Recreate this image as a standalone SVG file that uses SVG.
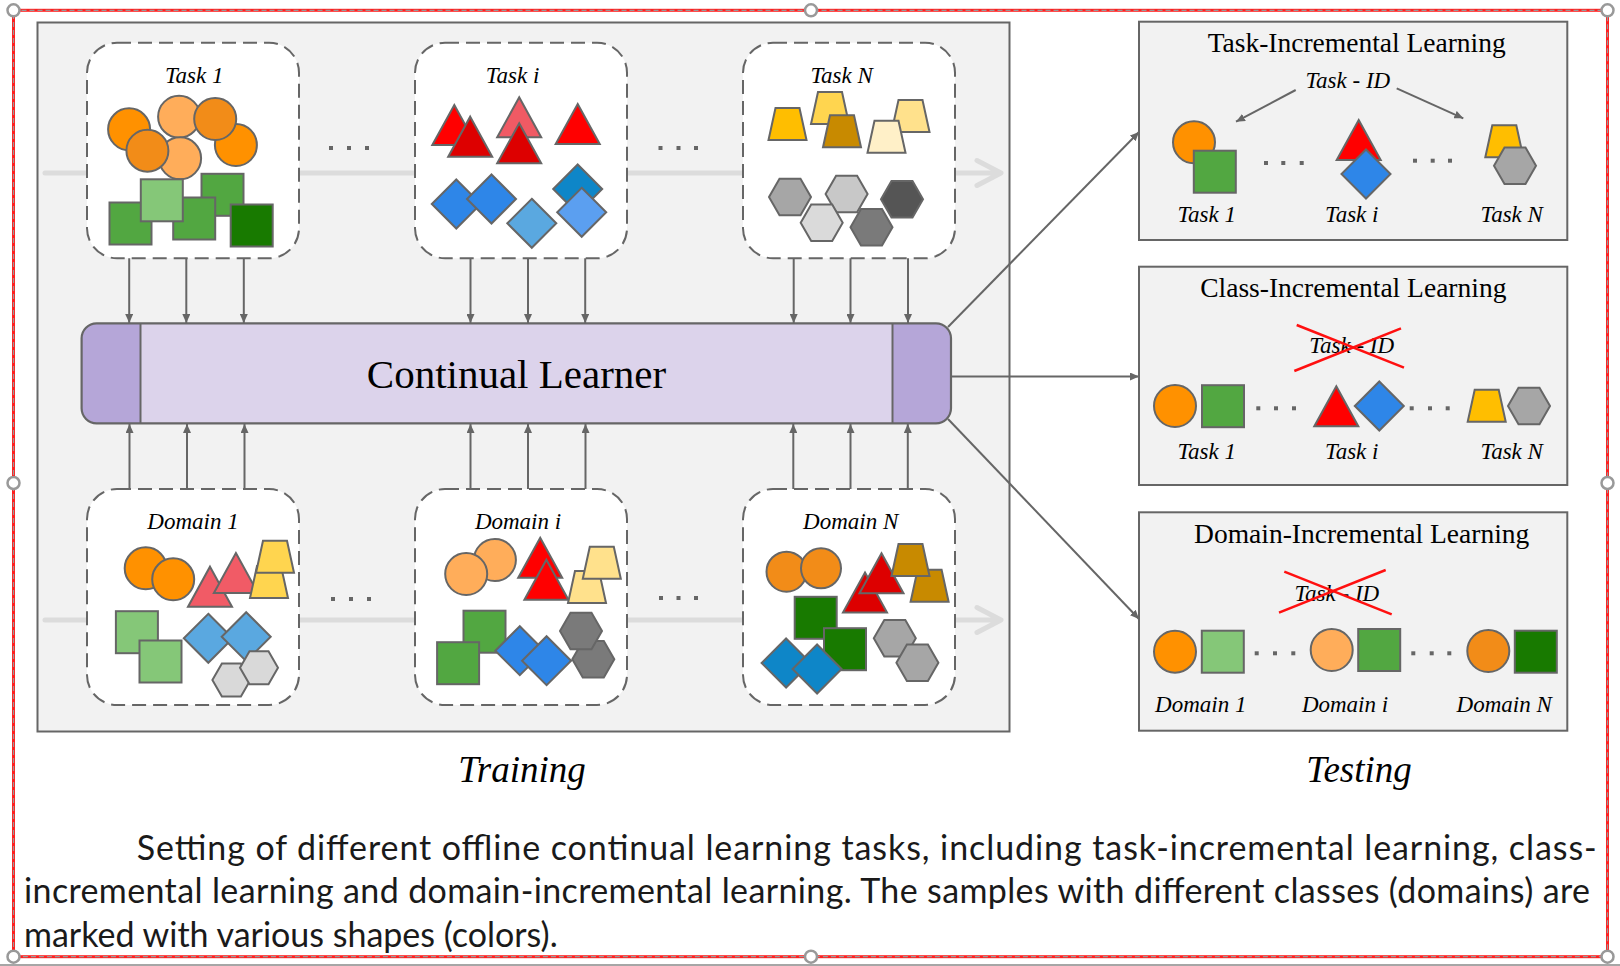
<svg xmlns="http://www.w3.org/2000/svg" xmlns:xlink="http://www.w3.org/1999/xlink" width="1620" height="966" viewBox="0 0 1620 966">
<style>
.sh{stroke:#666;stroke-width:2;stroke-linejoin:miter}
.box{fill:#fff;stroke:#666;stroke-width:2;stroke-dasharray:14 7}
.panel{fill:#f2f2f2;stroke:#666;stroke-width:2}
.lbl{font-family:"Liberation Serif",serif;font-style:italic;font-size:23px;text-anchor:middle;fill:#000}
.ttl{font-family:"Liberation Serif",serif;font-size:27.5px;text-anchor:middle;fill:#000}
.dot{fill:#666}
.flow{fill:none;stroke:#dcdcdc;stroke-width:5;stroke-linecap:round;stroke-linejoin:round}
.arr{fill:none;stroke:#666;stroke-width:2;marker-end:url(#ah)}
.cross{stroke:#ff1010;stroke-width:2.5}
.cap{font-family:Lato,"Noto Sans",sans-serif;font-size:34px;fill:#1a1a1a}
.big{font-family:"Liberation Serif",serif;font-style:italic;font-size:37px;text-anchor:middle;fill:#000}
.hdl{fill:#fff;stroke:#999;stroke-width:2.5}
</style>
<defs>
<marker id="ah" markerUnits="userSpaceOnUse" markerWidth="9" markerHeight="8" refX="9" refY="4" orient="auto"><path d="M0,0 L9,4 L0,8 z" fill="#666"/></marker>
<circle id="circ" r="21" class="sh"/>
<circle id="circ20" r="20" class="sh"/>
<rect id="sq" x="-21" y="-21" width="42" height="42" class="sh"/>
<polygon id="tri" points="0,-20 22,20 -22,20" class="sh"/>
<polygon id="dia" points="0,-24.5 24.5,0 0,24.5 -24.5,0" class="sh"/>
<polygon id="trap" points="-12,-16 12,-16 19,16 -19,16" class="sh"/>
<polygon id="hex" points="-21,0 -10.5,-18.2 10.5,-18.2 21,0 10.5,18.2 -10.5,18.2" class="sh"/>
<polygon id="hex19" points="-19,0 -9.5,-16.5 9.5,-16.5 19,0 9.5,16.5 -9.5,16.5" class="sh"/>
</defs>

<rect width="1620" height="966" fill="#fff"/>

<g id="training-panel">
<rect x="37.5" y="22.5" width="972" height="709" class="panel"/>
</g>

<g id="connectors">
<path class="flow" d="M45,173 H1000 M977,160.5 L1001,173 L977,185.5"/>
<path class="flow" d="M45,620 H1000 M977,607.5 L1001,620 L977,632.5"/>
<line class="arr" x1="129.2" y1="258" x2="129.2" y2="323"/>
<line class="arr" x1="186.3" y1="258" x2="186.3" y2="323"/>
<line class="arr" x1="243.8" y1="258" x2="243.8" y2="323"/>
<line class="arr" x1="470.5" y1="258" x2="470.5" y2="323"/>
<line class="arr" x1="528" y1="258" x2="528" y2="323"/>
<line class="arr" x1="585.2" y1="258" x2="585.2" y2="323"/>
<line class="arr" x1="793.7" y1="258" x2="793.7" y2="323"/>
<line class="arr" x1="850.5" y1="258" x2="850.5" y2="323"/>
<line class="arr" x1="908" y1="258" x2="908" y2="323"/>
<line class="arr" x1="129.5" y1="489" x2="129.5" y2="424"/>
<line class="arr" x1="187" y1="489" x2="187" y2="424"/>
<line class="arr" x1="244.5" y1="489" x2="244.5" y2="424"/>
<line class="arr" x1="470.5" y1="489" x2="470.5" y2="424"/>
<line class="arr" x1="528" y1="489" x2="528" y2="424"/>
<line class="arr" x1="585.5" y1="489" x2="585.5" y2="424"/>
<line class="arr" x1="793.3" y1="489" x2="793.3" y2="424"/>
<line class="arr" x1="850.5" y1="489" x2="850.5" y2="424"/>
<line class="arr" x1="907.8" y1="489" x2="907.8" y2="424"/>
<line class="arr" x1="948" y1="327" x2="1139" y2="132"/>
<line class="arr" x1="951" y1="376.5" x2="1139" y2="376.5"/>
<line class="arr" x1="948" y1="419" x2="1139" y2="619"/>
</g>

<g id="dots-training">
<rect class="dot" x="329" y="146" width="4" height="4"/><rect class="dot" x="347" y="146" width="4" height="4"/><rect class="dot" x="365" y="146" width="4" height="4"/>
<rect class="dot" x="658.5" y="146" width="4" height="4"/><rect class="dot" x="676.5" y="146" width="4" height="4"/><rect class="dot" x="694" y="146" width="4" height="4"/>
<rect class="dot" x="331" y="597" width="4" height="4"/><rect class="dot" x="349" y="597" width="4" height="4"/><rect class="dot" x="367" y="597" width="4" height="4"/>
<rect class="dot" x="659" y="596" width="4" height="4"/><rect class="dot" x="676.5" y="596" width="4" height="4"/><rect class="dot" x="694" y="596" width="4" height="4"/>
</g>

<g id="task-1">
<rect x="87" y="42.7" width="212" height="215.6" rx="30" class="box"/>
<text class="lbl" x="194.2" y="83.3">Task 1</text>
<use xlink:href="#circ" x="129.1" y="129.3" fill="#ff9100"/>
<use xlink:href="#circ" x="235.9" y="145" fill="#ff9100"/>
<use xlink:href="#circ" x="179.1" y="116.7" fill="#ffad5a"/>
<use xlink:href="#circ" x="215.2" y="119" fill="#f28c18"/>
<use xlink:href="#circ" x="180.1" y="158.3" fill="#ffad5a"/>
<use xlink:href="#circ" x="147.4" y="150.7" fill="#f28c18"/>
<use xlink:href="#sq" x="130.5" y="223.5" fill="#52a741"/>
<use xlink:href="#sq" x="222.5" y="194.8" fill="#52a741"/>
<use xlink:href="#sq" x="194.2" y="218.5" fill="#52a741"/>
<use xlink:href="#sq" x="161.8" y="200.3" fill="#85c778"/>
<use xlink:href="#sq" x="251.7" y="225.5" fill="#187a00"/>
</g>

<g id="task-i">
<rect x="415" y="42.7" width="212" height="215.6" rx="30" class="box"/>
<text class="lbl" x="512.6" y="83.3">Task i</text>
<use xlink:href="#tri" x="454.3" y="125" fill="#ff0000"/>
<use xlink:href="#tri" x="470.2" y="136.7" fill="#dd0000"/>
<use xlink:href="#tri" x="519.2" y="117.3" fill="#f05a64"/>
<use xlink:href="#tri" x="519.2" y="143.3" fill="#dd0000"/>
<use xlink:href="#tri" x="577.7" y="124" fill="#ff0000"/>
<use xlink:href="#dia" x="456.3" y="204" fill="#2e86e8"/>
<use xlink:href="#dia" x="491.5" y="199" fill="#2e86e8"/>
<use xlink:href="#dia" x="531.8" y="223.3" fill="#5aa8e0"/>
<use xlink:href="#dia" x="577.7" y="189" fill="#0e86c8"/>
<use xlink:href="#dia" x="581.7" y="212.3" fill="#5b9ff0"/>
</g>

<g id="task-N">
<rect x="743" y="42.7" width="212" height="215.6" rx="30" class="box"/>
<text class="lbl" x="841.6" y="83.3">Task N</text>
<use xlink:href="#trap" x="787.5" y="124" fill="#ffbe00"/>
<use xlink:href="#trap" x="830" y="108" fill="#ffd54f"/>
<use xlink:href="#trap" x="842" y="131.2" fill="#c88a00"/>
<use xlink:href="#trap" x="910.5" y="116" fill="#ffe18c"/>
<use xlink:href="#trap" x="886.5" y="136.7" fill="#fff0c8"/>
<use xlink:href="#hex" x="790" y="197" fill="#a6a6a6"/>
<use xlink:href="#hex" x="846.6" y="194" fill="#c8c8c8"/>
<use xlink:href="#hex" x="902" y="199.3" fill="#555555"/>
<use xlink:href="#hex" x="821.7" y="222.7" fill="#dadada"/>
<use xlink:href="#hex" x="871.5" y="227.3" fill="#7a7a7a"/>
</g>

<g id="continual-learner">
<rect x="81.6" y="323.3" width="869.4" height="100" rx="15" fill="#b5a6d8"/>
<rect x="140.5" y="323.3" width="752" height="100" fill="#dcd3eb"/>
<line x1="140.5" y1="323.3" x2="140.5" y2="423.3" stroke="#666" stroke-width="2"/>
<line x1="892.5" y1="323.3" x2="892.5" y2="423.3" stroke="#666" stroke-width="2"/>
<rect x="81.6" y="323.3" width="869.4" height="100" rx="15" fill="none" stroke="#666" stroke-width="2.2"/>
<text x="516.5" y="388" font-family="Liberation Serif, serif" font-size="41" text-anchor="middle" fill="#000">Continual Learner</text>
</g>

<g id="domain-1">
<rect x="87" y="489" width="212" height="216" rx="30" class="box"/>
<text class="lbl" x="193" y="529.3">Domain 1</text>
<use xlink:href="#circ" x="145.7" y="568.3" fill="#ff9100"/>
<use xlink:href="#circ" x="173.2" y="579.3" fill="#ff9100"/>
<use xlink:href="#tri" x="210" y="586.7" fill="#f15b66"/>
<use xlink:href="#tri" x="235.9" y="573" fill="#f15b66"/>
<use xlink:href="#trap" x="269" y="582" fill="#ffd54f"/>
<use xlink:href="#trap" x="275" y="556.7" fill="#ffd54f"/>
<use xlink:href="#sq" x="136.9" y="632.2" fill="#85c778"/>
<use xlink:href="#sq" x="160.5" y="661.5" fill="#85c778"/>
<use xlink:href="#dia" x="208.3" y="638.3" fill="#5aa8e0"/>
<use xlink:href="#dia" x="246.2" y="636.7" fill="#5aa8e0"/>
<use xlink:href="#hex19" x="231.4" y="680" fill="#d9d9d9"/>
<use xlink:href="#hex19" x="259" y="667.7" fill="#d9d9d9"/>
</g>

<g id="domain-i">
<rect x="415" y="489" width="212" height="216" rx="30" class="box"/>
<text class="lbl" x="518" y="529.3">Domain i</text>
<use xlink:href="#circ" x="494.9" y="560" fill="#ffad5a"/>
<use xlink:href="#circ" x="466.2" y="574" fill="#ffad5a"/>
<use xlink:href="#tri" x="540.2" y="557.8" fill="#ff0000"/>
<use xlink:href="#tri" x="546.4" y="579.7" fill="#ff0000"/>
<use xlink:href="#trap" x="587" y="587" fill="#ffe18c"/>
<use xlink:href="#trap" x="601.8" y="562.8" fill="#ffe18c"/>
<use xlink:href="#sq" x="484.5" y="631.7" fill="#52a741"/>
<use xlink:href="#sq" x="458.1" y="663.2" fill="#52a741"/>
<use xlink:href="#dia" x="519.8" y="650.7" fill="#2e86e8"/>
<use xlink:href="#dia" x="546.6" y="660.7" fill="#2e86e8"/>
<use xlink:href="#hex" x="593.3" y="659.3" fill="#7a7a7a"/>
<use xlink:href="#hex" x="581" y="631" fill="#7a7a7a"/>
</g>

<g id="domain-N">
<rect x="743" y="489" width="212" height="216" rx="30" class="box"/>
<text class="lbl" x="850.7" y="529.3">Domain N</text>
<use xlink:href="#circ20" x="786.5" y="571.7" fill="#f28c18"/>
<use xlink:href="#circ20" x="821" y="568.3" fill="#f28c18"/>
<use xlink:href="#sq" x="815.7" y="617.8" fill="#187a00"/>
<use xlink:href="#sq" x="845" y="649.2" fill="#187a00"/>
<use xlink:href="#tri" x="865" y="592.5" fill="#dd0000"/>
<use xlink:href="#tri" x="881.5" y="573.3" fill="#dd0000"/>
<use xlink:href="#trap" x="929.6" y="585.8" fill="#c88a00"/>
<use xlink:href="#trap" x="910.5" y="560" fill="#c88a00"/>
<use xlink:href="#dia" x="786.1" y="663" fill="#0e86c8"/>
<use xlink:href="#dia" x="817.1" y="669" fill="#0e86c8"/>
<use xlink:href="#hex" x="894.8" y="638.3" fill="#a6a6a6"/>
<use xlink:href="#hex" x="917.4" y="662.7" fill="#a6a6a6"/>
</g>

<g id="task-incremental">
<rect x="1139" y="21.7" width="428.3" height="218.3" class="panel"/>
<text class="ttl" x="1356.7" y="51.7">Task-Incremental Learning</text>
<text class="lbl" x="1347.8" y="88.3">Task - ID</text>
<line class="arr" x1="1295.7" y1="90" x2="1236" y2="121.7"/>
<line class="arr" x1="1396.7" y1="88.3" x2="1463.3" y2="118.3"/>
<use xlink:href="#circ" x="1194" y="142.3" fill="#ff9100"/>
<use xlink:href="#sq" x="1214.8" y="171.7" fill="#52a741"/>
<use xlink:href="#tri" x="1358.7" y="140" fill="#ff0000"/>
<use xlink:href="#dia" x="1366" y="174" fill="#2e86e8"/>
<use xlink:href="#trap" x="1504.3" y="141.2" fill="#ffbe00"/>
<use xlink:href="#hex" x="1515" y="165.7" fill="#a6a6a6"/>
<rect class="dot" x="1264" y="161" width="4" height="4"/><rect class="dot" x="1281.3" y="161" width="4" height="4"/><rect class="dot" x="1299.7" y="161" width="4" height="4"/>
<rect class="dot" x="1413" y="158.7" width="4" height="4"/><rect class="dot" x="1430.7" y="158.7" width="4" height="4"/><rect class="dot" x="1448" y="158.7" width="4" height="4"/>
<text class="lbl" x="1206.7" y="221.7">Task 1</text>
<text class="lbl" x="1351.7" y="221.7">Task i</text>
<text class="lbl" x="1511.7" y="221.7">Task N</text>
</g>

<g id="class-incremental">
<rect x="1139" y="266.7" width="428.3" height="218.3" class="panel"/>
<text class="ttl" x="1353.3" y="296.7">Class-Incremental Learning</text>
<text class="lbl" x="1351.7" y="353.3">Task - ID</text>
<line class="cross" x1="1296.7" y1="325" x2="1404" y2="367.7"/>
<line class="cross" x1="1294.3" y1="371" x2="1401" y2="328.3"/>
<use xlink:href="#circ" x="1175" y="406" fill="#ff9100"/>
<use xlink:href="#sq" x="1223" y="406.2" fill="#52a741"/>
<use xlink:href="#tri" x="1336.3" y="406.3" fill="#ff0000"/>
<use xlink:href="#dia" x="1379.3" y="406" fill="#2e86e8"/>
<use xlink:href="#trap" x="1486.7" y="405.8" fill="#ffbe00"/>
<use xlink:href="#hex" x="1529" y="406" fill="#a6a6a6"/>
<rect class="dot" x="1256.3" y="406.3" width="4" height="4"/><rect class="dot" x="1274" y="406.3" width="4" height="4"/><rect class="dot" x="1292" y="406.3" width="4" height="4"/>
<rect class="dot" x="1409.7" y="406.3" width="4" height="4"/><rect class="dot" x="1428" y="406.3" width="4" height="4"/><rect class="dot" x="1445.7" y="406.3" width="4" height="4"/>
<text class="lbl" x="1206.7" y="459">Task 1</text>
<text class="lbl" x="1351.7" y="459">Task i</text>
<text class="lbl" x="1511.7" y="459">Task N</text>
</g>

<g id="domain-incremental">
<rect x="1139" y="512.3" width="428.3" height="218.4" class="panel"/>
<text class="ttl" x="1361.7" y="542.7">Domain-Incremental Learning</text>
<text class="lbl" x="1336.8" y="600.7">Task - ID</text>
<line class="cross" x1="1284.3" y1="571.7" x2="1391.7" y2="614.3"/>
<line class="cross" x1="1279" y1="612.7" x2="1385.7" y2="570"/>
<use xlink:href="#circ" x="1175" y="651.7" fill="#ff9100"/>
<use xlink:href="#sq" x="1222.8" y="651.7" fill="#85c778"/>
<use xlink:href="#circ" x="1331.7" y="650" fill="#ffad5a"/>
<use xlink:href="#sq" x="1379.2" y="650" fill="#52a741"/>
<use xlink:href="#circ" x="1488.3" y="651" fill="#f28c18"/>
<use xlink:href="#sq" x="1535.8" y="651.7" fill="#187a00"/>
<rect class="dot" x="1254.7" y="651.3" width="4" height="4"/><rect class="dot" x="1273" y="651.3" width="4" height="4"/><rect class="dot" x="1291.3" y="651.3" width="4" height="4"/>
<rect class="dot" x="1411.3" y="651.3" width="4" height="4"/><rect class="dot" x="1429.7" y="651.3" width="4" height="4"/><rect class="dot" x="1447.3" y="651.3" width="4" height="4"/>
<text class="lbl" x="1200.8" y="711.7">Domain 1</text>
<text class="lbl" x="1345" y="711.7">Domain i</text>
<text class="lbl" x="1504.2" y="711.7">Domain N</text>
</g>

<g id="captions">
<text class="big" x="522" y="782">Training</text>
<text class="big" x="1359" y="782">Testing</text>
<text class="cap" x="136.7" y="860" textLength="1460" lengthAdjust="spacing">Setting of different offline continual learning tasks, including task-incremental learning, class-</text>
<text class="cap" x="24" y="903.3" textLength="1566" lengthAdjust="spacing">incremental learning and domain-incremental learning. The samples with different classes (domains) are</text>
<text class="cap" x="24" y="946.7">marked with various shapes (colors).</text>
</g>

<g id="selection-frame">
<line x1="0" y1="965" x2="1620" y2="965" stroke="#888" stroke-width="1.5"/>
<rect x="13.5" y="10.3" width="1594" height="946.4" fill="none" stroke="#ff2020" stroke-width="3"/>
<rect x="13.5" y="10.3" width="1594" height="946.4" fill="none" stroke="#999" stroke-width="1.2" stroke-dasharray="5 3"/>
<circle class="hdl" cx="13.5" cy="10.3" r="6"/>
<circle class="hdl" cx="811" cy="10.3" r="6"/>
<circle class="hdl" cx="1607.5" cy="10.3" r="6"/>
<circle class="hdl" cx="13.5" cy="483" r="6"/>
<circle class="hdl" cx="1607.5" cy="483" r="6"/>
<circle class="hdl" cx="13.5" cy="956.7" r="6"/>
<circle class="hdl" cx="811" cy="956.7" r="6"/>
<circle class="hdl" cx="1607.5" cy="956.7" r="6"/>
</g>
</svg>
